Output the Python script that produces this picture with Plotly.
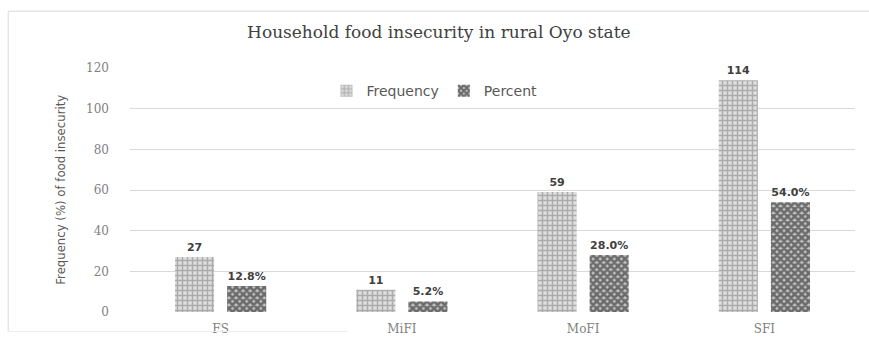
import plotly.graph_objects as go

categories = ["FS", "MiFI", "MoFI", "SFI"]
frequency = [27, 11, 59, 114]
percent = [12.8, 5.2, 28.0, 54.0]
y_ticks = [0, 20, 40, 60, 80, 100, 120]

title_text = "Household food insecurity in rural Oyo state"
y_title = "Frequency (%) of food insecurity"

label_font = dict(family="DejaVu Sans", size=11, color="#404040", weight="bold")

fig = go.Figure()
fig.add_trace(go.Bar(
    x=categories, y=frequency, name="Frequency",
    marker=dict(color="white", line=dict(width=0),
                pattern=dict(shape="+", fgcolor="#777777", bgcolor="#dedede", size=5, solidity=0.5)),
    text=[str(v) for v in frequency], textposition="outside", cliponaxis=False,
    textfont=label_font,
))
fig.add_trace(go.Bar(
    x=categories, y=percent, name="Percent",
    marker=dict(color="white", line=dict(width=0),
                pattern=dict(shape="x", fgcolor="#111111", bgcolor="#c4c4c4", size=5, solidity=0.75)),
    text=[f"{v:.1f}%" for v in percent], textposition="outside", cliponaxis=False,
    textfont=label_font,
))

fig.update_layout(
    width=869, height=338,
    margin=dict(l=130, r=14, t=68, b=26, autoexpand=False),
    paper_bgcolor="white", plot_bgcolor="white",
    barmode="group", bargap=0.425, bargroupgap=0.25,
    title=dict(text=title_text, x=0.505, xanchor="center", y=0.905, yref="container", yanchor="middle",
               font=dict(family="DejaVu Serif", size=17, color="#404040")),
    legend=dict(orientation="h", x=0.42, xanchor="center", y=0.905, yanchor="middle",
                bgcolor="rgba(0,0,0,0)", font=dict(family="DejaVu Sans", size=14, color="#595959"),
                itemwidth=30, traceorder="normal"),
    showlegend=True,
    xaxis=dict(showgrid=False, showline=False, ticks="", ticklabelstandoff=8, automargin=False,
               tickfont=dict(family="DejaVu Serif", size=12, color="#7f7f7f")),
    yaxis=dict(range=[0, 120], tickvals=y_ticks, showgrid=True, gridcolor="#d9d9d9", gridwidth=1,
               zeroline=False, showline=False, ticks="", ticklabelstandoff=20, automargin=False,
               tickfont=dict(family="DejaVu Serif", size=12, color="#7f7f7f")),
    annotations=[dict(text=y_title, textangle=-90, xref="paper", x=-0.097, xanchor="center",
                      yref="paper", y=0.5, yanchor="middle", showarrow=False,
                      font=dict(family="Liberation Sans Narrow, DejaVu Sans Condensed", size=13, color="#595959"))],
    shapes=[
        dict(type="line", xref="paper", yref="paper", x0=-0.168, x1=1.02, y0=1.233, y1=1.233,
             line=dict(color="#d9d9d9", width=1)),
        dict(type="line", xref="paper", yref="paper", x0=-0.168, x1=-0.168, y0=1.233, y1=-0.08,
             line=dict(color="#d9d9d9", width=1)),
        dict(type="line", xref="paper", yref="paper", x0=-0.168, x1=0.3, y0=-0.08, y1=-0.08,
             line=dict(color="#ececec", width=1)),
    ],
)

fig.write_html("out.html")
